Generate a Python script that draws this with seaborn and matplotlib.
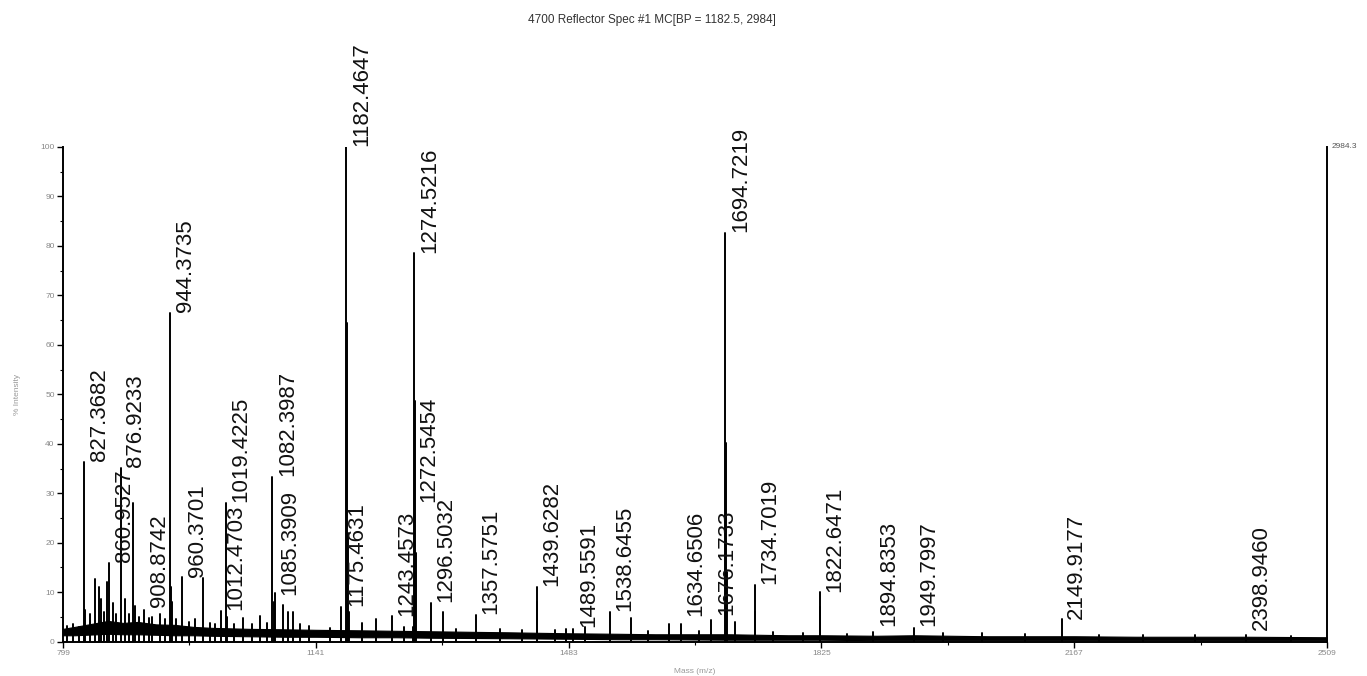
import numpy as np
import pandas as pd
import matplotlib
matplotlib.use("Agg")
import matplotlib.pyplot as plt
import seaborn as sns

# ---------------------------------------------------------------------------
# Data
# ---------------------------------------------------------------------------
TITLE = "4700 Reflector Spec #1 MC[BP = 1182.5, 2984]"
MAX_COUNTS = "2984.3"

peak_mz = [
    805.0, 812.0, 820.0, 827.37, 828.37, 836.0, 842.7, 848.0, 850.8, 854.0,
    858.0, 860.95, 867.0, 871.0, 876.92, 883.3, 888.0, 894.1, 896.4, 902.0,
    908.87, 915.0, 920.0, 930.0, 937.0, 944.37, 945.37, 946.4, 952.0, 960.37,
    970.0, 978.0, 988.9, 998.0, 1005.0, 1012.47, 1019.42, 1021.0, 1030.0, 1043.0,
    1055.0, 1065.6, 1075.0, 1082.40, 1084.4, 1085.39, 1096.3, 1104.0, 1110.0, 1120.0,
    1132.0, 1160.0, 1175.46, 1182.46, 1183.47, 1184.47, 1185.5, 1204.0, 1222.5, 1243.46,
    1260.0, 1272.55, 1274.52, 1275.52, 1276.5, 1296.50, 1313.6, 1330.0, 1357.58, 1390.0,
    1420.0, 1439.63, 1440.63, 1465.0, 1480.0, 1489.56, 1505.0, 1538.65, 1567.6, 1590.0,
    1619.0, 1634.65, 1660.0, 1676.17, 1694.72, 1695.72, 1696.7, 1708.4, 1734.70, 1735.7,
    1760.0, 1800.0, 1822.65, 1823.65, 1860.0, 1894.84, 1949.80, 1989.0, 2042.0, 2100.0,
    2149.92, 2200.0, 2260.0, 2330.0, 2398.95, 2460.0,
]
peak_intensity = [
    3.2, 3.5, 3.0, 36.4, 6.5, 5.5, 12.7, 11.1, 8.6, 6.0,
    12.1, 15.9, 7.8, 5.5, 35.2, 8.6, 5.5, 28.1, 7.3, 5.0,
    6.5, 4.8, 5.0, 5.5, 4.5, 66.5, 11.1, 8.0, 4.5, 13.0,
    4.0, 4.5, 12.8, 3.8, 3.5, 6.2, 28.1, 5.0, 3.5, 4.8,
    3.5, 5.1, 3.8, 33.3, 8.0, 9.8, 7.4, 6.0, 6.0, 3.5,
    3.2, 2.8, 7.1, 100.0, 64.5, 22.0, 6.0, 3.8, 4.6, 5.1,
    3.0, 3.0, 78.5, 48.6, 18.0, 7.8, 6.1, 2.6, 5.4, 2.5,
    2.4, 11.1, 8.0, 2.4, 2.5, 2.5, 3.0, 6.0, 4.7, 2.2,
    3.5, 3.5, 2.2, 4.3, 82.7, 40.2, 14.0, 4.0, 11.5, 6.0,
    2.0, 1.8, 10.0, 7.0, 1.6, 2.0, 2.7, 1.8, 1.8, 1.5,
    4.5, 1.4, 1.4, 1.3, 1.3, 1.2,
]

label_mz = [
    827.3682, 860.9527, 876.9233, 908.8742, 944.3735, 960.3701, 1012.4703,
    1019.4225, 1082.3987, 1085.3909, 1175.4631, 1182.4647, 1243.4573, 1272.5454,
    1274.5216, 1296.5032, 1357.5751, 1439.6282, 1489.5591, 1538.6455, 1634.6506,
    1676.1733, 1694.7219, 1734.7019, 1822.6471, 1894.8353, 1949.7997, 2149.9177,
    2398.9460,
]
label_intensity = [
    36.4, 15.9, 35.2, 6.8, 66.5, 13.0, 6.2,
    28.1, 33.3, 9.4, 7.1, 100.0, 5.1, 28.0,
    78.5, 7.8, 5.4, 11.1, 2.8, 6.0, 5.0,
    5.3, 82.7, 11.5, 10.0, 3.0, 3.0, 4.4,
    2.3,
]

# noise band under the sticks (lower / upper edge, % intensity)
baseline_mz = [799, 815, 830, 845, 860, 880, 900, 925, 950, 975, 1000, 1050, 1100,
               1141, 1200, 1250, 1300, 1400, 1483, 1550, 1600, 1700, 1780, 1825,
               1900, 1950, 2050, 2167, 2250, 2300, 2400, 2509]
baseline_lo = [1.3, 1.3, 1.4, 1.5, 1.6, 1.5, 1.5, 1.4, 1.3, 1.3, 1.2, 1.1, 1.0,
               1.0, 0.9, 0.9, 0.8, 0.7, 0.6, 0.5, 0.5, 0.4, 0.4, 0.4,
               0.3, 0.3, 0.3, 0.3, 0.3, 0.3, 0.3, 0.3]
baseline_hi = [2.6, 3.0, 3.4, 3.8, 4.2, 3.8, 4.0, 3.5, 3.4, 3.0, 2.8, 2.6, 2.5,
               2.4, 2.3, 2.2, 2.1, 1.9, 1.7, 1.6, 1.5, 1.5, 1.3, 1.3,
               1.2, 1.3, 1.1, 1.1, 1.0, 1.0, 1.0, 0.9]

x_ticks = [799, 1141, 1483, 1825, 2167, 2509]

# ---------------------------------------------------------------------------
# Plot
# ---------------------------------------------------------------------------
sns.set_theme(style="ticks")
plt.rcParams["font.family"] = ["Liberation Sans", "DejaVu Sans"]

W, H = 1367, 676
fig = plt.figure(figsize=(W / 100, H / 100), dpi=100)
ax = fig.add_axes([63 / W, 1 - 641.7 / H, (1327 - 63) / W, (641.7 - 147) / H])

# stick spectrum: one unit per peak, drawn from 0 up to the peak top
sticks = pd.DataFrame({
    "mz": np.repeat(peak_mz, 2),
    "intensity": np.column_stack([np.zeros(len(peak_intensity)), peak_intensity]).ravel(),
    "peak": np.repeat(np.arange(len(peak_mz)), 2),
})
ax.fill_between(baseline_mz, baseline_lo, baseline_hi, color="black", lw=0.8,
                edgecolor="black")
sns.lineplot(data=sticks, x="mz", y="intensity", units="peak", estimator=None,
             sort=False, color="black", lw=1.4, ax=ax, legend=False)

for lab, y in zip(label_mz, label_intensity):
    ax.annotate(f"{lab:.4f}", (lab, y), xytext=(11, 0.5), textcoords="offset points",
                rotation=90, ha="center", va="bottom", fontsize=16, color="#111111")

ax.set_xlim(799, 2509)
ax.set_ylim(0, 100)
ax.set_xticks(x_ticks)
ax.set_xticks([(a + b) / 2 for a, b in zip(x_ticks[:-1], x_ticks[1:])], minor=True)
ax.set_yticks(range(0, 101, 10))
ax.set_yticks(range(5, 100, 10), minor=True)
ax.tick_params(which="major", length=4, width=1.0, color="black",
               labelsize=6, labelcolor="#888888", pad=2)
ax.tick_params(which="minor", length=2.5, width=0.8, color="black")
ax.set_xlabel("Mass (m/z)", fontsize=6, color="#999999", labelpad=8)
ax.set_ylabel("% Intensity", fontsize=6, color="#999999", labelpad=14)
ax.grid(False)

sns.despine(ax=ax, top=True, right=False)
for side in ("left", "bottom", "right"):
    ax.spines[side].set_linewidth(1.4)
    ax.spines[side].set_color("black")

ax.text(1.004, 1.0, MAX_COUNTS, transform=ax.transAxes, fontsize=6,
        color="#555555", ha="left", va="center")
fig.text(652 / W, 1 - 20 / H, TITLE, fontsize=8.5, color="#333333",
         ha="center", va="center")

fig.savefig("out.png", dpi=100)
